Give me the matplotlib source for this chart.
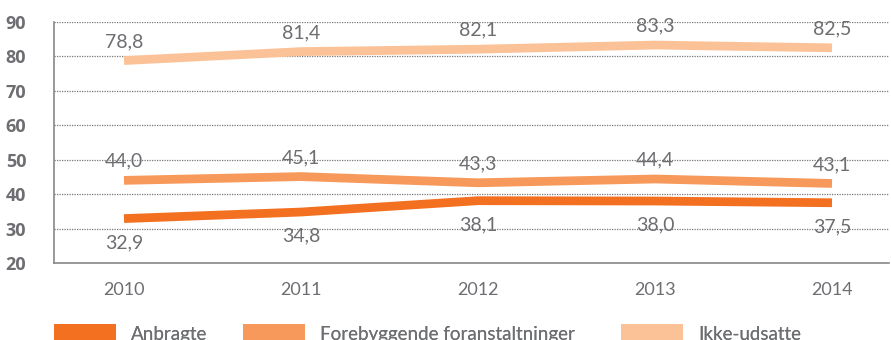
import matplotlib
matplotlib.use("Agg")
import matplotlib.pyplot as plt
from matplotlib.patches import Patch

years = [2010, 2011, 2012, 2013, 2014]
anbragte = [32.9, 34.8, 38.1, 38.0, 37.5]
forebyggende = [44.0, 45.1, 43.3, 44.4, 43.1]
ikke_udsatte = [78.8, 81.4, 82.1, 83.3, 82.5]
series_names = ["Anbragte", "Forebyggende foranstaltninger", "Ikke-udsatte"]
colors = ["#F37021", "#F7995A", "#FCC297"]
yticks = [20, 30, 40, 50, 60, 70, 80, 90]

plt.rcParams["font.family"] = ["Lato", "DejaVu Sans"]
text_color = "#6D6E71"

fig = plt.figure(figsize=(8.91, 3.40), dpi=100)
ax = fig.add_axes([54 / 891, 1 - 263 / 340, (889 - 54) / 891, (263 - 22) / 340])

series = [anbragte, forebyggende, ikke_udsatte]
label_offsets = [-24, 19, 19]
for vals, col, off in zip(series, colors, label_offsets):
    ax.plot(years, vals, color=col, lw=6.3, solid_capstyle="butt", zorder=3)
    for x, v in zip(years, vals):
        ax.annotate(f"{v:.1f}".replace(".", ","), (x, v), xytext=(0, off),
                    textcoords="offset pixels", ha="center", va="center",
                    fontsize=14, color=text_color, zorder=4)

ax.set_ylim(20, 90)
ax.set_xlim(2010 - 70 / 177, 2014 + 57 / 177)
ax.set_yticks(yticks)
ax.set_yticklabels([str(v) for v in yticks], fontfamily="Open Sans",
                   fontweight="bold", fontsize=13)
ax.set_xticks(years)
ax.set_xticklabels([str(y) for y in years], fontsize=13)
ax.tick_params(axis="y", length=0, pad=20, colors=text_color)
ax.tick_params(axis="x", length=0, pad=14, colors=text_color)

ax.grid(axis="y", linestyle=(0, (1, 1)), color="#777777", lw=0.9, zorder=1)
for s in ["top", "right"]:
    ax.spines[s].set_visible(False)
for s in ["left", "bottom"]:
    ax.spines[s].set_color("#888888")
    ax.spines[s].set_linewidth(1.2)

# one legend entry per block, placed along the bottom edge
legend_x = [54, 243, 621]
for name, col, x0 in zip(series_names, colors, legend_x):
    leg = fig.legend([Patch(facecolor=col, edgecolor="none")], [name],
                     loc="upper left", bbox_to_anchor=(x0 / 891, 1 - 324 / 340),
                     frameon=False, fontsize=13.5, handlelength=3.3, handleheight=1.2,
                     handletextpad=0.8, borderaxespad=0, borderpad=0,
                     labelcolor=text_color)
    fig.add_artist(leg)

fig.savefig("out.png", dpi=100)
